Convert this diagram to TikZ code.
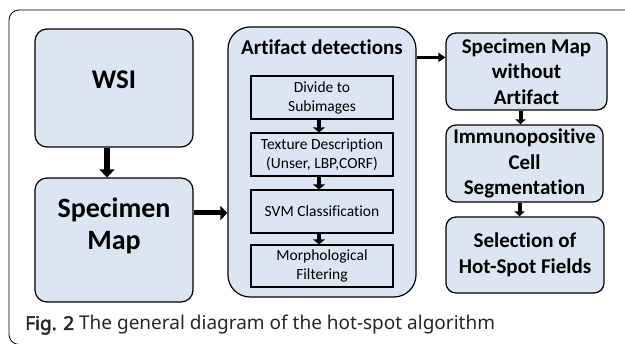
\documentclass[tikz,border=0pt]{standalone}
\usepackage{fontspec}
\setmainfont[Ligatures=NoCommon]{Carlito}
\newfontfamily\capfont{Noto Sans}[AutoFakeBold=2.5]
\usetikzlibrary{arrows.meta,calc}
\definecolor{boxblue}{HTML}{DCE6F2}
\begin{document}
\begin{tikzpicture}[x=1pt,y=-1pt,
  bigbox/.style={draw=black,line width=1.2pt,fill=boxblue,rounded corners=12pt,align=center,font=\bfseries,inner sep=0pt},
  inbox/.style={draw=black,line width=1.2pt,fill=boxblue,align=center,inner sep=0pt,minimum width=142pt,minimum height=43pt,font=\fontsize{15.5}{19}\selectfont},
  rtbox/.style={bigbox,rounded corners=10pt,font=\fontsize{21}{25.5}\selectfont\bfseries},
  fatarr/.style={line width=6pt,-{Triangle[width=15pt,length=8pt]}},
  sidearr/.style={line width=5pt,-{Triangle[width=14pt,length=7pt]}},
  midarr/.style={line width=4pt,-{Triangle[width=12pt,length=5pt]}},
  rarr/.style={line width=4pt,-{Triangle[width=10pt,length=5pt]}},
  thinarr/.style={line width=3pt,-{Triangle[width=9pt,length=7pt]}}]
\useasboundingbox (0,0) rectangle (625,344);
\begin{scope}
\clip (0,0) rectangle (625,344);
\draw[line width=0.8pt,rounded corners=10pt] (640,10) -- (9,10) -- (9,344.5) -- (640,344.5);
\end{scope}
% left column
\node[bigbox,minimum width=158pt,minimum height=118pt,font=\fontsize{27}{32}\selectfont\bfseries,text depth=16pt] (wsi) at (114,88) {WSI};
\node[bigbox,minimum width=158pt,minimum height=124pt,font=\fontsize{28}{32}\selectfont\bfseries] (spec) at (114,240) {Specimen\\Map\\~};
% artifact detection
\node[bigbox,rounded corners=22pt,minimum width=188pt,minimum height=270pt] (art) at (322,162) {};
\node[font=\fontsize{21}{24}\selectfont\bfseries,inner sep=0pt] (artt) at (322,47) {Artifact detections};
\node[inbox] (div) at (322,97.5) {Divide to\\Subimages};
\node[inbox] (tex) at (322,154.5) {Texture Description\\(Unser, LBP,CORF)};
\node[inbox] (svm) at (322,211.5) {SVM Classification};
\node[inbox,minimum height=42pt] (mor) at (322,266) {Morphological\\Filtering};
% right column
\node[rtbox,minimum width=161pt,minimum height=77pt] (spw) at (526.5,71.5) {Specimen Map\\without\\Artifact};
\node[rtbox,minimum width=157pt,minimum height=77pt] (imm) at (524.5,163.5) {Immunopositive\\Cell\\Segmentation};
\node[rtbox,minimum width=158pt,minimum height=76pt] (sel) at (525,255) {Selection of\\Hot-Spot Fields};
% arrows
\draw[fatarr] ([xshift=-7pt]wsi.south) -- ([xshift=-7pt]spec.north);
\draw[sidearr] ([yshift=27pt]spec.east) -- ([yshift=27pt]spec.east -| art.west);
\draw[thinarr] ([yshift=-31pt]art.north east) -- ([yshift=-31pt]art.north east -| spw.west);
\draw[midarr] ([xshift=-3pt]div.south) -- ([xshift=-3pt]tex.north);
\draw[midarr] ([xshift=-3pt]tex.south) -- ([xshift=-3pt]svm.north);
\draw[midarr] ([xshift=-3pt]svm.south) -- ([xshift=-3pt]mor.north);
\draw[rarr] ([xshift=-6pt]spw.south) -- ([xshift=-6pt]spw.south |- imm.north);
\draw[rarr] ([xshift=-5pt]imm.south) -- ([xshift=-5pt]imm.south |- sel.north);
% caption
\node[anchor=base west,inner sep=0pt,font=\capfont\fontsize{19}{22}\selectfont,text=black!85] (cap) at (25,330) {\textbf{Fig. 2} The general diagram of the hot-spot algorithm};
\end{tikzpicture}
\end{document}
